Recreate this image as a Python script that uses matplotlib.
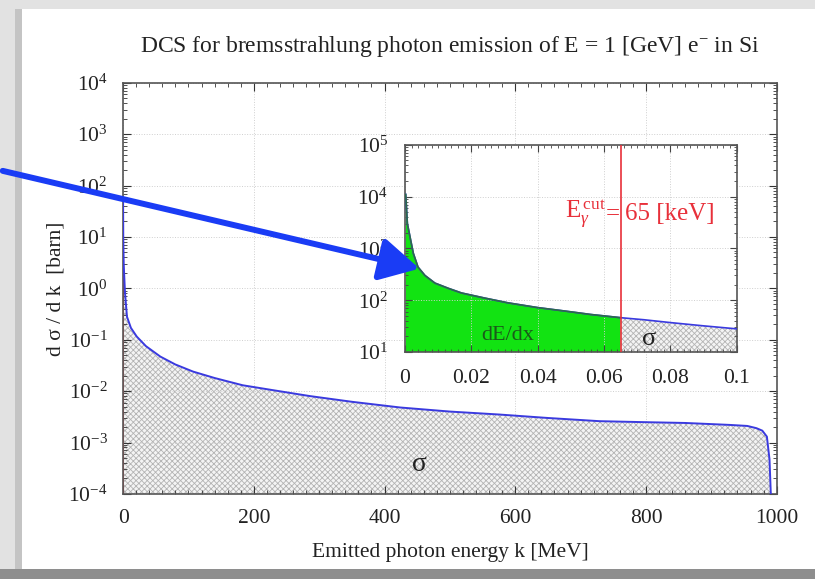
import numpy as np
import matplotlib
matplotlib.use("Agg")
import matplotlib.pyplot as plt
from matplotlib.patches import Rectangle, FancyArrowPatch
from matplotlib.ticker import LogLocator, NullFormatter, FixedLocator

plt.rcParams['font.family'] = ['Liberation Serif', 'DejaVu Serif']
plt.rcParams['mathtext.fontset'] = 'custom'
plt.rcParams['mathtext.rm'] = 'Liberation Serif'
plt.rcParams['mathtext.it'] = 'Liberation Serif:italic'
plt.rcParams['axes.unicode_minus'] = False
plt.rcParams['hatch.linewidth'] = 0.6
plt.rcParams['hatch.color'] = '#b4b4b4'

# DCS of 1 GeV e- in Si, full photon-energy range [MeV, barn]
k_main = [0.065, 0.3, 1.0, 1.5, 3, 6, 12, 21, 35, 57, 80, 107, 140, 183, 230,
          286, 350, 424, 500, 576, 650, 729, 790, 860, 928, 955, 969, 978,
          985, 989, 991]
dcs_main = [46, 9.5, 3.0, 2.1, 0.8, 0.28, 0.17, 0.115, 0.075, 0.047, 0.033,
            0.024, 0.018, 0.013, 0.0104, 0.0080, 0.0062, 0.0048, 0.0040,
            0.0035, 0.0030, 0.0026, 0.0025, 0.0024, 0.0022, 0.0021, 0.0019,
            0.0017, 0.0013, 0.00047, 0.0001]

# low-energy zoom [MeV, barn]
k_low = [0.0002, 0.0007, 0.0015, 0.0025, 0.0039, 0.006, 0.009, 0.013, 0.017,
         0.024, 0.031, 0.04, 0.048, 0.056, 0.065, 0.072, 0.08, 0.09, 0.1]
dcs_low = [11000, 3000, 1660, 800, 436, 300, 214, 170, 138, 110, 89, 72, 62,
           53, 46, 42, 37, 32, 28]

k_cut = 0.065  # MeV
main_xticks = [0, 200, 400, 600, 800, 1000]
inset_xticks = [0, 0.02, 0.04, 0.06, 0.08, 0.1]
inset_xlabels = ['0', '0.02', '0.04', '0.06', '0.08', '0.1']

blue = '#3a3adf'
red = '#e8303a'
green = '#12e312'
txt = '#222222'

fig = plt.figure(figsize=(8.15, 5.79), dpi=100)
fig.patch.set_facecolor('#e2e2e2')
# white card with a shaded border
fig.patches.append(Rectangle((0.027, 0.018), 0.973, 0.967, transform=fig.transFigure,
                             facecolor='white', edgecolor='none', zorder=-10))
fig.patches.append(Rectangle((0.0, 0.0), 1.0, 0.018, transform=fig.transFigure,
                             facecolor='#8e8e8e', edgecolor='none', zorder=-9))
fig.patches.append(Rectangle((0.018, 0.018), 0.009, 0.967, transform=fig.transFigure,
                             facecolor='#c4c4c4', edgecolor='none', zorder=-9))

ax = fig.add_axes([0.151, 0.147, 0.802, 0.710])
ax.fill_between(k_main, 1e-4, dcs_main, facecolor='#f4f4f4', edgecolor='#b4b4b4',
                hatch='xxxxxx', linewidth=0, zorder=1)
ax.plot(k_main, dcs_main, color=blue, lw=1.4, zorder=3)
ax.plot([k_cut, k_cut], [1e-4, dcs_main[0]], color=red, lw=1.2, zorder=2)
ax.set_yscale('log')
ax.set_xlim(0, 1000)
ax.set_ylim(1e-4, 1e4)
ax.set_xticks(main_xticks)
ax.yaxis.set_major_locator(LogLocator(base=10, numticks=20))
ax.yaxis.set_minor_locator(LogLocator(base=10, subs=np.arange(2, 10), numticks=20))
ax.yaxis.set_minor_formatter(NullFormatter())
ax.xaxis.set_minor_locator(FixedLocator(np.arange(0, 1001, 20)))
ax.grid(True, which='major', color='#cfcfcf', lw=0.7, ls=':')
ax.tick_params(which='both', direction='in', top=True, right=True, labelsize=15.5,
               colors='#333333', labelcolor=txt)
ax.tick_params(which='major', length=6, pad=11)
ax.tick_params(which='minor', length=3)
for s in ax.spines.values():
    s.set_color('#555555')
    s.set_linewidth(1.2)
ax.set_xlabel('Emitted photon energy k [MeV]', fontsize=15.5, color=txt, labelpad=11)
ax.set_ylabel('d σ / d k  [barn]', fontsize=15.5, color=txt, labelpad=2)
ax.set_title(r'DCS for bremsstrahlung photon emission of E = 1 [GeV] e$^{-}$ in Si',
             fontsize=17, color=txt, pad=22)
ax.text(453, 3.7e-4, 'σ', fontsize=20, ha='center', va='center', color=txt)

# inset: low-energy part with the cut
ins = fig.add_axes([0.497, 0.392, 0.407, 0.358])
k_low = np.array(k_low)
dcs_low = np.array(dcs_low)
below = k_low <= k_cut
above = k_low >= k_cut
ins.fill_between(k_low[below], 10, dcs_low[below], facecolor=green,
                 edgecolor='none', linewidth=0, zorder=1)
ins.fill_between(k_low[above], 10, dcs_low[above], facecolor='#f4f4f4',
                 edgecolor='#b4b4b4', hatch='xxxxxx', linewidth=0, zorder=1)
ins.plot(k_low, dcs_low, color=blue, lw=1.2, zorder=3)
ins.plot(k_low[below], dcs_low[below], color='#2c6a4a', lw=1.2, zorder=3)
ins.axvline(k_cut, color=red, lw=1.2, zorder=4)
ins.set_yscale('log')
ins.set_xlim(0, 0.1)
ins.set_ylim(10, 1e5)
ins.set_xticks(inset_xticks)
ins.set_xticklabels(inset_xlabels)
ins.yaxis.set_major_locator(LogLocator(base=10, numticks=10))
ins.yaxis.set_minor_locator(LogLocator(base=10, subs=np.arange(2, 10), numticks=10))
ins.yaxis.set_minor_formatter(NullFormatter())
ins.xaxis.set_minor_locator(FixedLocator(np.arange(0, 0.1001, 0.002)))
ins.grid(True, which='major', color='#cfcfcf', lw=0.7, ls=':')
ins.tick_params(which='both', direction='in', top=True, right=True, labelsize=15.5,
                colors='#444444', labelcolor=txt)
ins.tick_params(which='major', length=5, pad=12)
ins.tick_params(which='minor', length=2.5)
for s in ins.spines.values():
    s.set_color('#555555')
    s.set_linewidth(1.2)
ins.text(k_cut - 0.0003, 4600, '=', fontsize=18, color=red, ha='right', va='center', zorder=5)
ins.text(k_cut - 0.0045, 4600, r'E$_{\gamma}^{\,\mathrm{cut}}$', fontsize=18, color=red,
         ha='right', va='center', zorder=5)
ins.text(k_cut + 0.0012, 4600, '65 [keV]', fontsize=18, color=red, ha='left',
         va='center', zorder=5)
ins.text(0.031, 21, 'dE/dx', fontsize=16, color='#1a5a1a', ha='center', va='center', zorder=5)
ins.text(0.0735, 17.5, 'σ', fontsize=19, color=txt, ha='center', va='center', zorder=5)

arrow = FancyArrowPatch((0.0, 0.706), (0.518, 0.535), transform=fig.transFigure,
                        arrowstyle='-|>,head_length=1.2,head_width=0.65',
                        mutation_scale=20, lw=4.3, color='#1a3cf5', zorder=20)
fig.patches.append(arrow)

fig.savefig('out.png', dpi=100, facecolor=fig.get_facecolor())
